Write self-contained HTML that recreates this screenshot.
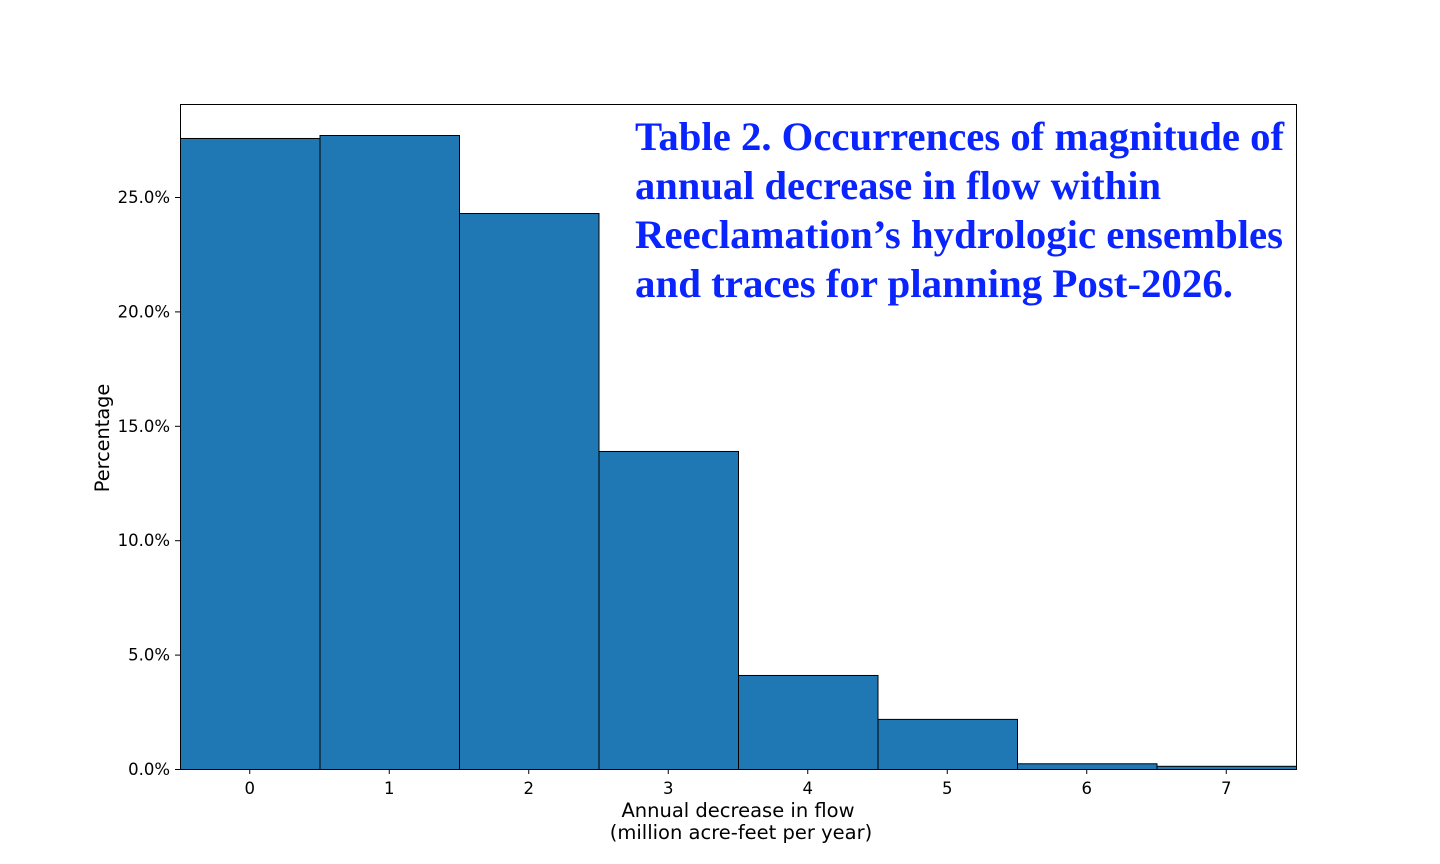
<!DOCTYPE html>
<html><head><meta charset="utf-8"><style>
html,body{margin:0;padding:0;background:#fff;width:1440px;height:864px;overflow:hidden}
svg text{font-family:"DejaVu Sans","Liberation Sans",sans-serif}
</style></head><body>
<svg id="chart" width="1440" height="864" xmlns="http://www.w3.org/2000/svg">
<g id="bars"></g>
<g id="xticks"></g>
<g id="yticks"></g>
<rect x="180.5" y="104.5" width="1116" height="665" fill="none" stroke="#000" stroke-width="1"/>
<text transform="translate(109,438) rotate(-90)" text-anchor="middle" font-size="19.3">Percentage</text>
<text x="738" y="817" text-anchor="middle" font-size="19.5">Annual decrease in flow</text>
<text x="741" y="839" text-anchor="middle" font-size="19.5">(million acre-feet per year)</text>
<g fill="#0a24ff" font-weight="bold" font-size="40">
<text x="635" y="150" textLength="649" lengthAdjust="spacingAndGlyphs" style="font-family:'Liberation Serif',serif">Table 2. Occurrences of magnitude of</text>
<text x="635" y="199" textLength="526" lengthAdjust="spacingAndGlyphs" style="font-family:'Liberation Serif',serif">annual decrease in flow within</text>
<text x="635" y="248" textLength="648" lengthAdjust="spacingAndGlyphs" style="font-family:'Liberation Serif',serif">Reeclamation’s hydrologic ensembles</text>
<text x="635" y="297" textLength="598" lengthAdjust="spacingAndGlyphs" style="font-family:'Liberation Serif',serif">and traces for planning Post-2026.</text>
</g>
</svg>
<script>
const categories=[0,1,2,3,4,5,6,7];
const percentages=[27.58,27.71,24.30,13.90,4.11,2.19,0.25,0.14];
const yTicks=[0,5,10,15,20,25];
const yTickLabels=["0.0%","5.0%","10.0%","15.0%","20.0%","25.0%"];
const NS="http://www.w3.org/2000/svg";
const x=v=>180+(v+0.5)*139.5;
const y=v=>769-v*22.88;
const bars=document.getElementById('bars');
categories.forEach((c,i)=>{
  const r=document.createElementNS(NS,'rect');
  
  
  r.setAttribute('x',x(c-0.5)+0.5);r.setAttribute('width',139.5);
  r.setAttribute('y',y(percentages[i])+0.5);r.setAttribute('height',y(0)-y(percentages[i]));
  r.setAttribute('fill','#1f77b4');r.setAttribute('stroke','#000');r.setAttribute('stroke-width','1');
  bars.appendChild(r);
});
const xt=document.getElementById('xticks');
categories.forEach(c=>{
  const l=document.createElementNS(NS,'line');
  
  
  l.setAttribute('x1',x(c));l.setAttribute('x2',x(c));l.setAttribute('y1',769);l.setAttribute('y2',774);l.setAttribute('stroke','#000');
  xt.appendChild(l);
  const t=document.createElementNS(NS,'text');
  
  
  t.setAttribute('x',x(c));t.setAttribute('y',794);t.setAttribute('text-anchor','middle');t.setAttribute('font-size','16.5');
  t.textContent=c;xt.appendChild(t);
});
const yt=document.getElementById('yticks');
yTicks.forEach((v,i)=>{
  const l=document.createElementNS(NS,'line');
  
  
  l.setAttribute('x1',175);l.setAttribute('x2',180);l.setAttribute('y1',y(v)+0.5);l.setAttribute('y2',y(v)+0.5);l.setAttribute('stroke','#000');
  yt.appendChild(l);
  const t=document.createElementNS(NS,'text');
  
  
  t.setAttribute('x',170);t.setAttribute('y',y(v)+6);t.setAttribute('text-anchor','end');t.setAttribute('font-size','16.5');
  t.textContent=yTickLabels[i];yt.appendChild(t);
});
</script>
</body></html>
